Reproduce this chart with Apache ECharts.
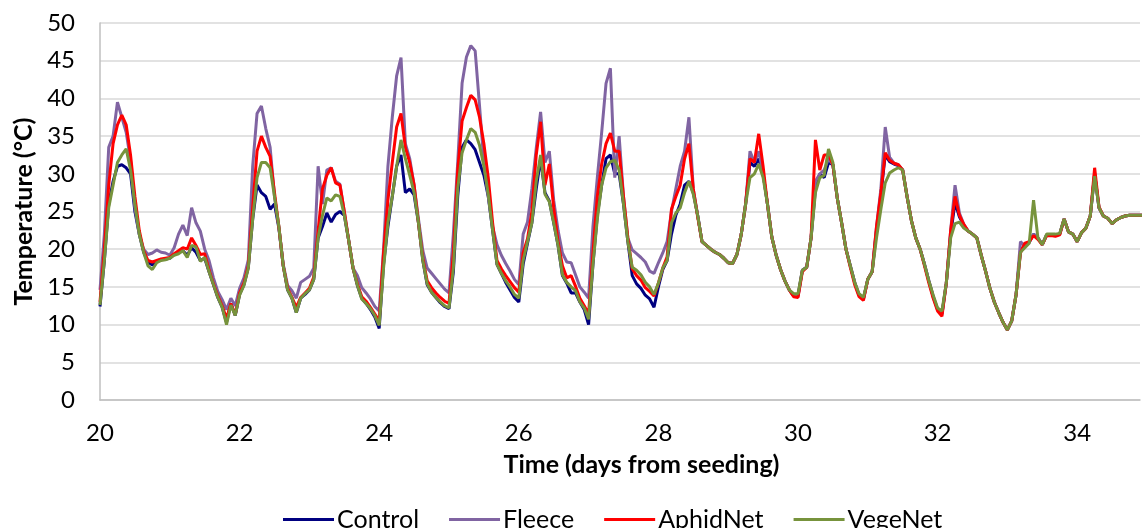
<!DOCTYPE html>
<html>
<head>
<meta charset="utf-8">
<title>Temperature under crop covers</title>
<script src="https://cdn.jsdelivr.net/npm/echarts@6/dist/echarts.min.js"></script>
<style>
  html, body { margin: 0; padding: 0; background: #ffffff; }
  #chart { width: 1143px; height: 528px; }
</style>
</head>
<body>
<div id="chart"></div>
<script>
// Logged every 1.5 h (1/16 day), starting on day 20 after seeding.
const startDay = 20;
const stepDays = 1 / 16;

const seriesNames = ['Control', 'Fleece', 'AphidNet', 'VegeNet'];
const xTicks = [20, 22, 24, 26, 28, 30, 32, 34];

// Air temperature (°C), one row of 16 readings per day (days 20..34)
const control = [
  12.4, 18.5, 26, 29, 31, 31.2, 30.8, 30, 25, 22, 19.6, 18.3, 17.9, 18.4, 18.6, 18.7,
  18.8, 19.3, 19.6, 19.8, 19.2, 20.2, 19.6, 18.5, 18.8, 17.0, 15.3, 13.6, 12.3, 10.3, 12.8, 11.2,
  14, 15.3, 17.6, 24, 28.5, 27.5, 27, 25.3, 26, 22.8, 17.8, 14.6, 13.5, 11.6, 13.5, 14,
  14.6, 16, 21.5, 23, 24.8, 23.6, 24.6, 25, 24.5, 21.2, 17.5, 15.2, 13.5, 12.8, 12, 11,
  9.5, 18, 23, 27, 31, 32.5, 27.5, 28, 27.2, 23.5, 18.5, 15.3, 14.3, 13.6, 12.9, 12.4,
  12.1, 17, 27, 33.5, 34.5, 34, 33.2, 31.5, 29.8, 27, 22.5, 18, 16.8, 15.6, 14.6, 13.6,
  13, 18, 20.8, 23.5, 28, 32, 27.5, 26.4, 23.5, 20.5, 16.5, 15.5, 14.2, 14.2, 13, 12,
  10, 18, 24.5, 28.5, 32, 32.5, 30, 30, 26, 21, 16.5, 15.4, 14.8, 13.9, 13.4, 12.3,
  15, 17.3, 18.5, 22, 24.5, 26, 28.5, 29, 27.5, 24.5, 21, 20.5, 20, 19.6, 19.3, 18.8,
  18.2, 18.1, 19.3, 22, 26, 31.5, 31, 32, 30, 26, 21.6, 19.2, 17.3, 15.8, 14.6, 13.8,
  13.8, 17.2, 17.6, 21.5, 28, 30, 29.5, 31.5, 31.2, 26.8, 23.5, 20, 17.8, 15.6, 13.9, 13.4,
  16, 17, 22.5, 27.2, 32.5, 31.6, 31.3, 31.1, 30.5, 27, 23.8, 21.5, 20, 18, 15.8, 13.7,
  12, 11.4, 15.5, 22, 26.2, 24.3, 23.2, 22.4, 22, 21.5, 19.2, 17.1, 14.8, 13, 11.6, 10.3,
  9.3, 10.5, 14, 19.8, 20.5, 20.9, 22, 21.5, 20.6, 21.9, 21.9, 21.8, 22, 24, 22.3, 22,
  21, 22.2, 22.8, 24.4, 30, 25.5, 24.4, 24.1, 23.4, 23.9, 24.2, 24.4, 24.5, 24.5, 24.5, 24.5
];

const fleece = [
  14.6, 22, 33.5, 35, 39.5, 37.5, 35.5, 31.8, 25.5, 22, 20, 19.3, 19.5, 19.9, 19.6, 19.5,
  19.2, 20.2, 22, 23.2, 21.8, 25.5, 23.5, 22.4, 20, 18.5, 16.2, 14.4, 13.3, 12.0, 13.5, 12.5,
  14.8, 16.2, 18.6, 31, 38, 39, 36, 33.5, 27, 23, 18, 15.2, 14.5, 13.5, 15.6, 16,
  16.4, 17.5, 31, 26, 30.5, 30.8, 29, 28.6, 25, 21.2, 17.5, 16.5, 14.9, 14.2, 13.4, 12.4,
  11.8, 20, 31, 37.5, 43, 45.4, 34, 32, 28.5, 24, 19.8, 17.5, 16.8, 16.1, 15.4, 14.7,
  14.2, 22, 31.5, 42, 45.5, 47, 46.3, 39, 31.5, 27, 23, 20.6, 19.2, 18.1, 17.1, 16,
  15.3, 22, 23.6, 28, 33.4, 38.2, 31.5, 33, 26.5, 22.5, 19.5, 18.3, 18.2, 16.6, 15, 14.3,
  13.5, 23, 29.5, 35.5, 42, 44, 29.5, 35, 27, 21.5, 19.9, 19.4, 18.9, 18.3, 17.1, 16.8,
  18.2, 19.5, 21, 25, 28, 31, 33, 37.5, 28, 24.5, 21, 20.5, 20, 19.6, 19.3, 18.8,
  18.2, 18.1, 19.3, 22, 26, 33, 31.5, 33, 30, 26, 21.6, 19.2, 17.3, 15.8, 14.6, 13.8,
  13.8, 17.2, 17.6, 21.5, 29, 30, 30.5, 32, 31.2, 26.8, 23.5, 20, 17.8, 15.6, 13.9, 13.4,
  16, 17, 23, 28, 36.2, 32.2, 31.4, 31.2, 30.5, 27, 23.8, 21.5, 20, 18, 15.8, 13.7,
  12, 11.4, 15.5, 22.5, 28.5, 24.8, 23.3, 22.4, 22, 21.5, 19.2, 17.1, 14.8, 13, 11.6, 10.3,
  9.3, 10.5, 14, 21, 20.4, 20.9, 22, 21.5, 20.6, 21.9, 21.9, 21.8, 22, 24, 22.3, 22,
  21, 22.2, 22.8, 24.4, 30, 25.5, 24.4, 24.1, 23.4, 23.9, 24.2, 24.4, 24.5, 24.5, 24.5, 24.5
];

const aphidNet = [
  13, 20, 28.5, 34, 36.5, 37.8, 36.5, 32.5, 27, 22.5, 19.8, 18.5, 18.3, 18.5, 18.7, 18.8,
  18.9, 19.4, 19.8, 20.2, 20, 21.5, 20.5, 19.3, 19.4, 17.2, 15.4, 13.8, 12.5, 10.8, 12.8, 11.3,
  14.2, 15.5, 17.8, 25.5, 33, 35, 33.5, 32.3, 27.5, 23, 17.8, 14.8, 13.6, 12.3, 13.6, 14.2,
  14.8, 16.3, 22.5, 28, 29.8, 30.8, 28.8, 28.5, 25, 21.2, 17.5, 15.4, 13.7, 13.1, 12.3, 11.4,
  10.5, 19.5, 26.5, 31.5, 36.2, 38, 33.5, 31.5, 28.5, 23.5, 18.8, 15.8, 14.9, 14.2, 13.6, 13.1,
  12.8, 19.5, 30.5, 37, 38.8, 40.4, 39.8, 37.5, 34, 29.5, 23.5, 18.5, 17.4, 16.5, 15.7, 14.9,
  14.3, 19.5, 21.4, 25, 32.5, 36.9, 28.5, 31.3, 25.5, 21, 17.8, 16.2, 16.5, 15.1, 13.5, 12.5,
  11.4, 19.5, 27, 31.3, 34, 35.4, 33, 33, 27, 21.5, 17.4, 16.5, 15.9, 14.9, 14.4, 13.8,
  15.5, 17.5, 19, 25.3, 27, 28.5, 32, 34, 28, 24.3, 21, 20.5, 20, 19.6, 19.3, 18.8,
  18.2, 18.1, 19.3, 22, 26, 32, 31.5, 35.3, 31, 26, 21.6, 19.2, 17.3, 15.8, 14.6, 13.7,
  13.6, 17, 17.6, 21.5, 34.5, 30.5, 32.5, 32.5, 31.2, 26.8, 23.5, 20, 17.6, 15.3, 13.7, 13.2,
  16, 17, 23, 27.5, 32.8, 31.8, 31.4, 31.2, 30.5, 27, 23.8, 21.5, 20, 17.8, 15.5, 13.5,
  11.8, 11.1, 15.5, 22.5, 27, 24.5, 23.3, 22.4, 22, 21.5, 19.2, 17.1, 14.8, 13, 11.6, 10.3,
  9.3, 10.5, 14, 19.5, 20.8, 21, 21.8, 21.3, 20.6, 21.8, 21.8, 21.7, 21.9, 24, 22.3, 22,
  21, 22.2, 22.8, 24.4, 30.8, 25.6, 24.4, 24.1, 23.4, 23.9, 24.2, 24.4, 24.5, 24.5, 24.5, 24.5
];

const vegeNet = [
  12.6, 18.5, 25.5, 28.5, 31.5, 32.5, 33.3, 30.5, 26, 22, 19.6, 17.8, 17.3, 18.2, 18.5, 18.6,
  18.8, 19.2, 19.4, 19.8, 18.9, 20.5, 20.3, 18.4, 18.9, 17, 15.3, 13.6, 12.3, 10.0, 12.6, 11.2,
  13.9, 15.2, 17.5, 24, 29.5, 31.5, 31.5, 30.8, 27, 23, 17.8, 14.6, 13.5, 11.6, 13.5, 14.1,
  14.6, 16, 21.5, 24.5, 26.8, 26.4, 27.2, 27, 24.5, 21.2, 17.5, 15.2, 13.4, 12.8, 12.1, 11.2,
  9.9, 17.5, 23.5, 27, 31, 34.5, 32, 29.8, 27.5, 23.5, 18.5, 15.4, 14.3, 13.6, 13, 12.5,
  12.2, 17.5, 28, 32.8, 34.5, 36, 35.5, 33.8, 31, 27.3, 22.5, 18, 16.8, 15.8, 15, 14,
  13.5, 18.5, 21, 23.5, 29, 32.5, 27.3, 26.3, 23.5, 20.5, 16.6, 15.6, 15, 14.5, 13, 12.2,
  10.7, 18, 24, 28.5, 30.8, 31.6, 31.8, 30.5, 26, 21, 17.6, 17.2, 16.6, 15.6, 15, 14,
  15.5, 17.5, 18.5, 23.5, 24.8, 25.5, 27.5, 29, 27.3, 24.5, 21, 20.5, 20, 19.6, 19.3, 18.8,
  18.2, 18.1, 19.3, 22, 26, 29.5, 30, 31.3, 29.5, 26, 21.6, 19.2, 17.3, 15.8, 14.6, 14.1,
  14.1, 17.2, 17.6, 21.5, 27.5, 29.5, 29.8, 33.3, 31.5, 26.8, 23.5, 20, 17.8, 15.6, 14.1, 13.6,
  16, 17, 21.5, 25.3, 28.8, 30.1, 30.5, 30.8, 30.5, 27, 23.8, 21.5, 20, 18, 15.8, 13.9,
  12.2, 11.8, 15.5, 21.5, 23.4, 23.6, 22.8, 22.4, 22, 21.5, 19.2, 17.1, 14.8, 13, 11.6, 10.3,
  9.3, 10.5, 14, 19.6, 20.2, 20.8, 26.5, 21.5, 20.6, 22, 22, 22, 22.1, 24, 22.3, 22,
  21, 22.2, 22.8, 24.4, 29.7, 25.5, 24.4, 24.1, 23.4, 23.9, 24.2, 24.4, 24.5, 24.5, 24.5, 24.5
];

const seriesValues = [control, fleece, aphidNet, vegeNet];
const seriesColors = ['#000080', '#8064A2', '#FF0000', '#77933C'];

function toPoints(values) {
  return values.map((v, i) => [startDay + i * stepDays, v]);
}

const fontFamily = 'Lato, "Open Sans", sans-serif';

const chart = echarts.init(document.getElementById('chart'), null, { renderer: 'canvas' });

chart.setOption({
  animation: false,
  backgroundColor: '#ffffff',
  textStyle: { fontFamily: fontFamily, color: '#000000' },
  grid: { left: 100, right: 0, top: 23, bottom: 128, containLabel: false },
  legend: {
    data: seriesNames,
    left: 283,
    top: 507,
    padding: 0,
    icon: 'rect',
    itemWidth: 51,
    itemHeight: 3,
    itemGap: 30,
    textStyle: { fontFamily: fontFamily, fontSize: 25, color: '#000000', padding: [0, 0, 0, -2] }
  },
  xAxis: {
    type: 'value',
    min: 20,
    max: 34.9,
    interval: 2,
    name: 'Time (days from seeding)',
    nameLocation: 'middle',
    nameGap: 52,
    nameTextStyle: { fontFamily: fontFamily, fontSize: 25, fontWeight: 'bold', color: '#000000', padding: [0, 0, 0, 43] },
    axisLine: { show: true, lineStyle: { color: '#bfbfbf', width: 1.5 } },
    axisTick: { show: false },
    axisLabel: {
      fontFamily: fontFamily, fontSize: 24, color: '#000000', margin: 21,
      formatter: (v) => (xTicks.includes(v) ? String(v) : '')
    },
    splitLine: { show: false }
  },
  yAxis: {
    type: 'value',
    min: 0,
    max: 50,
    interval: 5,
    name: 'Temperature (°C)',
    nameLocation: 'middle',
    nameRotate: 90,
    nameGap: 64,
    nameTextStyle: { fontFamily: fontFamily, fontSize: 25, fontWeight: 'bold', color: '#000000' },
    axisLine: { show: true, lineStyle: { color: '#bfbfbf', width: 1.5 } },
    axisTick: { show: false },
    axisLabel: { fontFamily: fontFamily, fontSize: 24, color: '#000000', margin: 25 },
    splitLine: { show: true, lineStyle: { color: '#d9d9d9', width: 1.5 } }
  },
  series: seriesNames.map((name, i) => ({
    name: name,
    type: 'line',
    data: toPoints(seriesValues[i]),
    symbol: 'none',
    smooth: false,
    clip: true,
    color: seriesColors[i],
    lineStyle: { color: seriesColors[i], width: 3 },
    z: 2 + i
  }))
});
</script>
</body>
</html>
